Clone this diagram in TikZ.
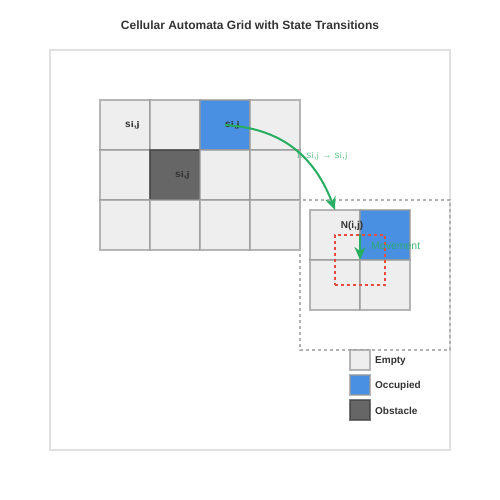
\documentclass[tikz,border=0pt]{standalone}
\usepackage{fontspec}
\setmainfont{Liberation Sans}
\newfontfamily\subfont{DejaVu Sans}[Scale=1.4]
\usetikzlibrary{arrows.meta}

\definecolor{cellempty}{HTML}{EEEEEE}
\definecolor{celloccupied}{HTML}{4A90E2}
\definecolor{cellobstacle}{HTML}{666666}
\definecolor{cellline}{HTML}{999999}
\definecolor{flowgreen}{HTML}{27AE60}
\definecolor{boxred}{HTML}{E74C3C}
\definecolor{titlegray}{HTML}{333333}

\newcommand{\sij}{s{\subfont ᵢ},{\subfont ⱼ}}

\tikzset{
    cell/.style={draw=cellline, draw opacity=0.7, line width=1.5pt, minimum size=50pt, inner sep=0pt, outer sep=0pt},
    empty/.style={cell, fill=cellempty},
    occupied/.style={cell, fill=celloccupied},
    obstacle/.style={cell, fill=cellobstacle, draw=black!75},
    statelabel/.style={font=\bfseries\fontsize{10}{11}\selectfont, text=titlegray, anchor=west, inner sep=0pt},
    legendbox/.style={draw=cellline, draw opacity=0.7, line width=1.5pt, minimum size=20pt, inner sep=0pt, outer sep=0pt},
    legendtext/.style={font=\bfseries\fontsize{10}{11}\selectfont, text=titlegray, anchor=west, inner sep=0pt}
}

\begin{document}
\begin{tikzpicture}[x=1pt, y=-1pt]
        \useasboundingbox (0,0) rectangle (500,500);
        \node[font=\bfseries\fontsize{12}{14}\selectfont, text=titlegray] (title) at (250,25) {Cellular Automata Grid with State Transitions};
        \draw[draw=black!12, line width=1.5pt, fill=white] (50,50) rectangle (450,450);
        % main grid
        \node[empty] (c11) at (125,125) {};
        \node[empty] (c12) at (175,125) {};
        \node[occupied] (c13) at (225,125) {};
        \node[empty] (c14) at (275,125) {};
        \node[empty] (c21) at (125,175) {};
        \node[obstacle] (c22) at (175,175) {};
        \node[empty] (c23) at (225,175) {};
        \node[empty] (c24) at (275,175) {};
        \node[empty] (c31) at (125,225) {};
        \node[empty] (c32) at (175,225) {};
        \node[empty] (c33) at (225,225) {};
        \node[empty] (c34) at (275,225) {};
        \node[statelabel] at (c11.center) {\sij};
        \node[statelabel] at (c13.center) {\sij};
        \node[statelabel] at (c22.center) {\sij};
        % neighbourhood zoom
        \draw[draw=black!30, line width=1.2pt, dash pattern=on 3pt off 3pt] (300,200) rectangle (450,350);
        \node[empty] (n11) at (335,235) {};
        \node[occupied] (n12) at (385,235) {};
        \node[empty] (n21) at (335,285) {};
        \node[empty] (n22) at (385,285) {};
        \node[statelabel, anchor=center] at (352,226) {N(i,j)};
        \node[draw=boxred, line width=1.5pt, dash pattern=on 3pt off 3pt, minimum size=50pt, inner sep=0pt] (move) at (360,260) {};
        % transitions
        \draw[flowgreen, line width=2pt, -{Stealth[length=13pt, width=11pt]}] (c13.center) .. controls (275,128) and (312,150) .. (n11.north);
        \node[text=flowgreen, opacity=0.7, font=\fontsize{10}{11}\selectfont, anchor=west, inner sep=0pt] at (297,156) {f: \sij{} → \sij};
        \draw[flowgreen, line width=2pt, -{Stealth[length=13pt, width=11pt]}] (move.north) -- (move.center);
        \node[text=flowgreen, opacity=0.85, font=\fontsize{10.5}{12}\selectfont, anchor=west, inner sep=0pt] at (371,246) {Movement};
        % legend
        \node[legendbox, fill=cellempty] (lempty) at (360,360) {};
        \node[legendbox, fill=celloccupied] (loccupied) at (360,385) {};
        \node[legendbox, fill=cellobstacle, draw=black!75] (lobstacle) at (360,410) {};
        \node[legendtext] at (375,361) {Empty};
        \node[legendtext] at (375,386) {Occupied};
        \node[legendtext] at (375,411) {Obstacle};
    \end{tikzpicture}
\end{document}
